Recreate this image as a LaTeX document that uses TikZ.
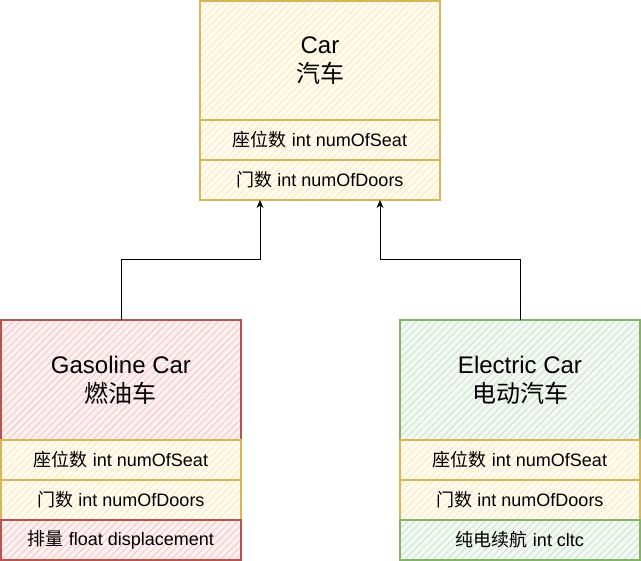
\documentclass[tikz,border=0pt]{standalone}
\usepackage{fontspec}
\setmainfont{Liberation Sans}
\newfontfamily\cjk{Noto Sans CJK SC}
\usetikzlibrary{patterns.meta,arrows.meta}
\definecolor{ystroke}{HTML}{D6B656}
\definecolor{yfill}{HTML}{FFF2CC}
\definecolor{yhatch}{HTML}{FAE9B6}
\definecolor{rstroke}{HTML}{B85450}
\definecolor{rfill}{HTML}{F8CECC}
\definecolor{rhatch}{HTML}{F5C3C0}
\definecolor{gstroke}{HTML}{82B366}
\definecolor{gfill}{HTML}{D5E8D4}
\definecolor{ghatch}{HTML}{CAE1C8}
\begin{document}
\begin{tikzpicture}[x=1pt,y=-1pt,
  part/.style={draw=#1stroke, line width=1.1pt,
    preaction={fill=#1fill!30!white},
    pattern={Lines[angle=45,distance=5pt,line width=0.8pt]}, pattern color=#1hatch,
    minimum width=240pt, inner sep=0pt, outer sep=0pt},
  head/.style={part=#1, minimum height=120pt, align=center,
    font=\fontsize{24}{29}\selectfont},
  row/.style={part=#1, minimum height=40pt,
    font=\fontsize{18}{21.6}\selectfont},
  arr/.style={line width=1pt, -{Stealth[length=8pt,width=7pt,inset=2.5pt]}}
]
\useasboundingbox (0,0) rectangle (641,561);
% Car
\node[head=y, minimum height=119pt] (carH) at (320,60.5) {Car\\{\cjk 汽车}};
\node[row=y] (carR1) at (320,140) {{\cjk 座位数} int numOfSeat};
\node[row=y] (carR2) at (320,180) {{\cjk 门数} int numOfDoors};
% Gasoline Car
\node[head=r] (gasH) at (121,380) {Gasoline Car\\{\cjk 燃油车}};
\node[row=y] (gasR1) at (121,460) {{\cjk 座位数} int numOfSeat};
\node[row=y] (gasR2) at (121,500) {{\cjk 门数} int numOfDoors};
\node[row=r] (gasR3) at (121,540) {{\cjk 排量} float displacement};
% Electric Car
\node[head=g] (eleH) at (520,380) {Electric Car\\{\cjk 电动汽车}};
\node[row=y] (eleR1) at (520,460) {{\cjk 座位数} int numOfSeat};
\node[row=y] (eleR2) at (520,500) {{\cjk 门数} int numOfDoors};
\node[row=g] (eleR3) at (520,540) {{\cjk 纯电续航} int cltc};
% connectors
\draw[arr] (gasH.north) -- ++(0,-60) -| ([xshift=-60pt]carR2.south);
\draw[arr] (eleH.north) -- ++(0,-60) -| ([xshift=60pt]carR2.south);
\end{tikzpicture}
\end{document}
